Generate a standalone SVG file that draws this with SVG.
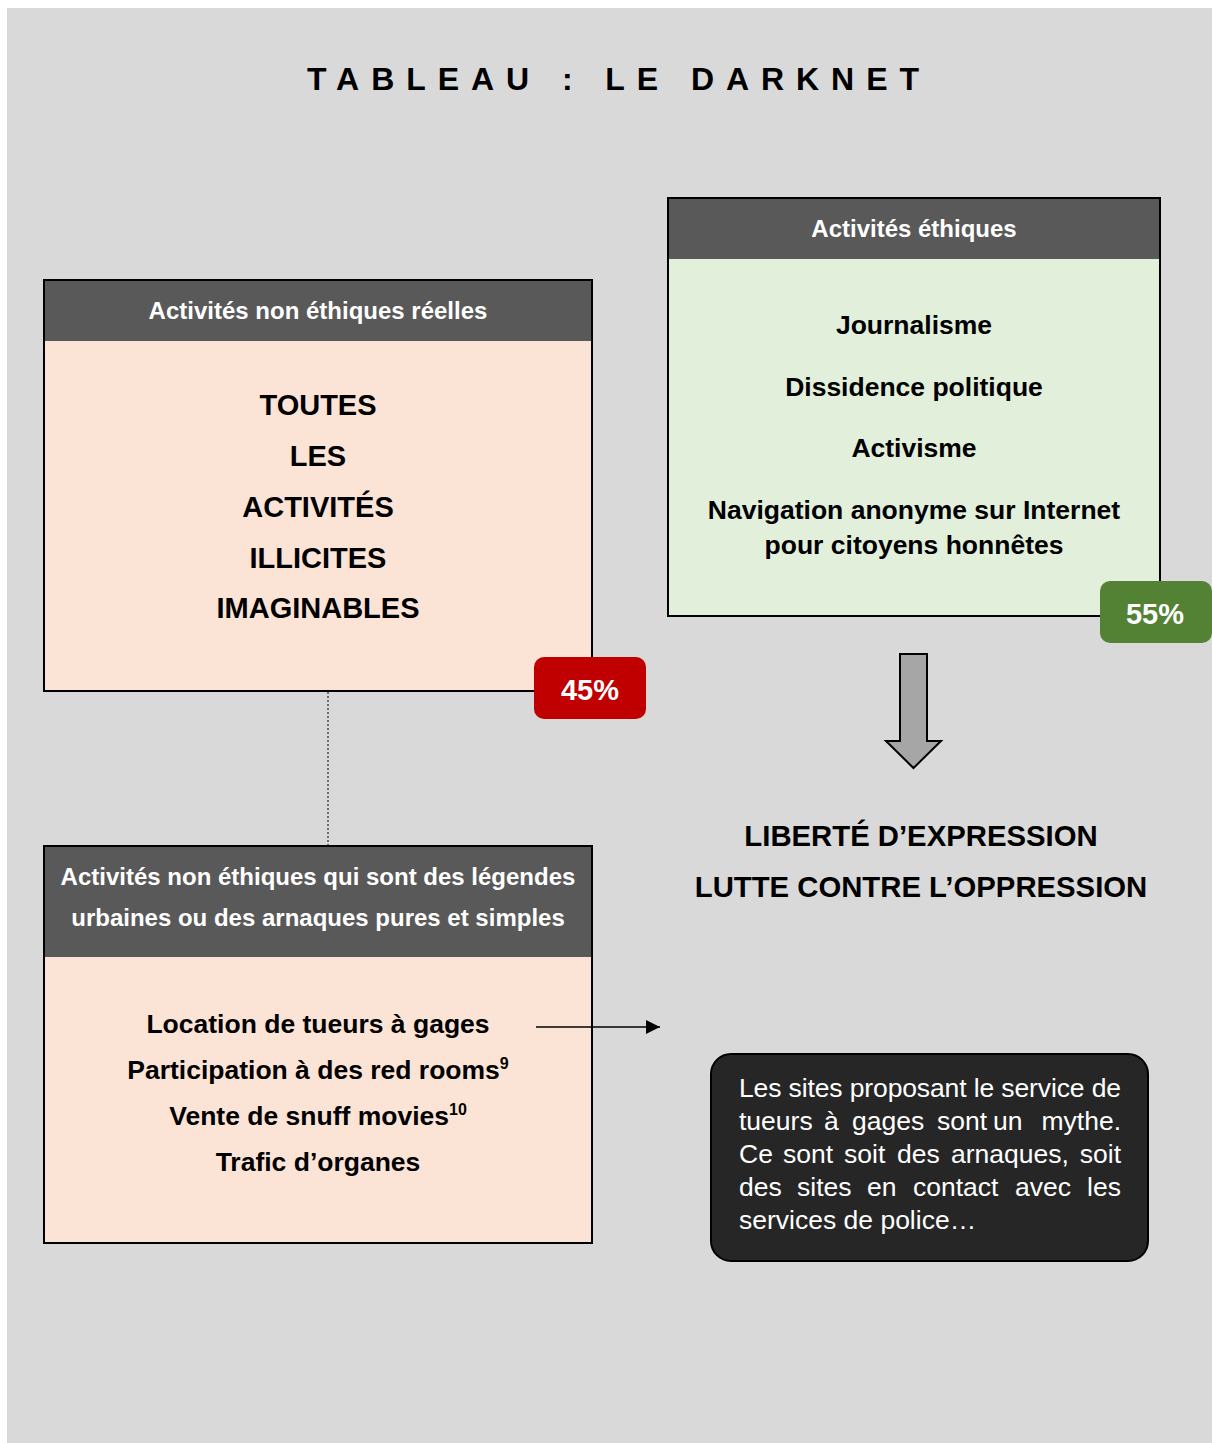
<svg xmlns="http://www.w3.org/2000/svg" width="1212" height="1443" viewBox="0 0 1212 1443">
  <defs>
    <style>
      .hdr { fill: #595959; }
      .box { stroke: #000; stroke-width: 2; }
      .peach { fill: #fbe4d5; }
      .green { fill: #e2efda; }
      .htxt { font-family: "Liberation Sans", Arial, sans-serif; font-weight: bold; font-size: 24px; fill: #fff; text-anchor: middle; }
      .btxt { font-family: "Liberation Sans", Arial, sans-serif; font-weight: bold; fill: #000; text-anchor: middle; }
      .badge { font-family: "Liberation Sans", Arial, sans-serif; font-weight: bold; font-size: 29px; fill: #fff; text-anchor: middle; }
      .note { font-family: "Liberation Sans", Arial, sans-serif; font-size: 26.5px; fill: #fff; }
    </style>
    <marker id="arrowhead" viewBox="0 0 10 10" refX="10" refY="5" markerWidth="16" markerHeight="14" markerUnits="userSpaceOnUse" orient="auto">
      <path d="M0,0 L10,5 L0,10 z" fill="#000"/>
    </marker>
  </defs>

  <!-- page background -->
  <rect x="0" y="0" width="1212" height="1443" fill="#fff"/>
  <rect x="7" y="8" width="1205" height="1435" fill="#d9d9d9"/>

  <!-- title -->
  <text x="613" y="90" font-family="Liberation Sans, Arial, sans-serif" font-weight="bold" font-size="32" text-anchor="middle" textLength="612" lengthAdjust="spacing">TABLEAU : LE DARKNET</text>

  <!-- real unethical activities -->
  <g id="node-reelles">
    <rect class="box peach" x="44" y="280" width="548" height="411"/>
    <rect class="hdr" x="45" y="281" width="546" height="60"/>
    <text class="htxt" x="318" y="319">Activités non éthiques réelles</text>
    <g class="btxt" font-size="29">
      <text x="318" y="415">TOUTES</text>
      <text x="318" y="466">LES</text>
      <text x="318" y="517">ACTIVITÉS</text>
      <text x="318" y="568">ILLICITES</text>
      <text x="318" y="618">IMAGINABLES</text>
    </g>
  </g>

  <g id="badge-45">
    <rect x="534" y="657" width="112" height="62" rx="10" fill="#c00000"/>
    <text class="badge" x="590" y="700">45%</text>
  </g>

  <!-- ethical activities -->
  <g id="node-ethiques">
    <rect class="box green" x="668" y="198" width="492" height="418"/>
    <rect class="hdr" x="669" y="199" width="490" height="60"/>
    <text class="htxt" x="914" y="237">Activités éthiques</text>
    <g class="btxt" font-size="26.5">
      <text x="914" y="334">Journalisme</text>
      <text x="914" y="396">Dissidence politique</text>
      <text x="914" y="457">Activisme</text>
      <text x="914" y="519">Navigation anonyme sur Internet</text>
      <text x="914" y="554">pour citoyens honnêtes</text>
    </g>
  </g>

  <g id="badge-55">
    <rect x="1100" y="581" width="112" height="62" rx="10" fill="#548235"/>
    <text class="badge" x="1155" y="624">55%</text>
  </g>

  <!-- outcome -->
  <g id="node-liberte">
    <g class="btxt" font-size="29.3">
      <text x="921" y="846">LIBERTÉ D’EXPRESSION</text>
      <text x="921" y="897">LUTTE CONTRE L’OPPRESSION</text>
    </g>
  </g>

  <!-- urban legends / scams -->
  <g id="node-legendes">
    <rect class="box peach" x="44" y="846" width="548" height="397"/>
    <rect class="hdr" x="45" y="847" width="546" height="110"/>
    <text class="htxt" x="318" y="885">Activités non éthiques qui sont des légendes</text>
    <text class="htxt" x="318" y="926">urbaines ou des arnaques pures et simples</text>
    <g class="btxt" font-size="26.5">
      <text x="318" y="1033">Location de tueurs à gages</text>
      <text x="318" y="1079">Participation à des red rooms<tspan font-size="16" dy="-10">9</tspan></text>
      <text x="318" y="1125">Vente de snuff movies<tspan font-size="16" dy="-10">10</tspan></text>
      <text x="318" y="1171">Trafic d’organes</text>
    </g>
  </g>

  <!-- explanatory note -->
  <g id="node-note">
    <rect x="711" y="1054" width="437" height="207" rx="20" fill="#262626" stroke="#000" stroke-width="2"/>
    <g class="note">
      <text x="739" y="1097" textLength="382" lengthAdjust="spacing">Les sites proposant le service de</text>
      <text y="1130"><tspan x="739">tueurs</tspan><tspan x="824">à</tspan><tspan x="852">gages</tspan><tspan x="937">sont</tspan><tspan x="993">un</tspan></text>
      <text x="1121" y="1130" text-anchor="end">mythe.</text>
      <text y="1163"><tspan x="739">Ce</tspan><tspan x="783">sont</tspan><tspan x="844">soit</tspan><tspan x="897">des</tspan><tspan x="951">arnaques,</tspan></text>
      <text x="1121" y="1163" text-anchor="end">soit</text>
      <text y="1196"><tspan x="739">des</tspan><tspan x="797">sites</tspan><tspan x="867">en</tspan><tspan x="913">contact</tspan><tspan x="1015">avec</tspan></text>
      <text x="1121" y="1196" text-anchor="end">les</text>
      <text x="739" y="1229">services de police…</text>
    </g>
  </g>

  <!-- connectors -->
  <g id="connectors">
    <line x1="328" y1="692" x2="328" y2="845" stroke="#000" stroke-width="1" stroke-dasharray="2,2"/>
    <line x1="536" y1="1027" x2="660" y2="1027" stroke="#000" stroke-width="1.5" marker-end="url(#arrowhead)"/>
    <path d="M900,654 H927 V741 H941 L913.5,768 L886,741 H900 Z" fill="#a6a6a6" stroke="#000" stroke-width="2"/>
  </g>
</svg>
